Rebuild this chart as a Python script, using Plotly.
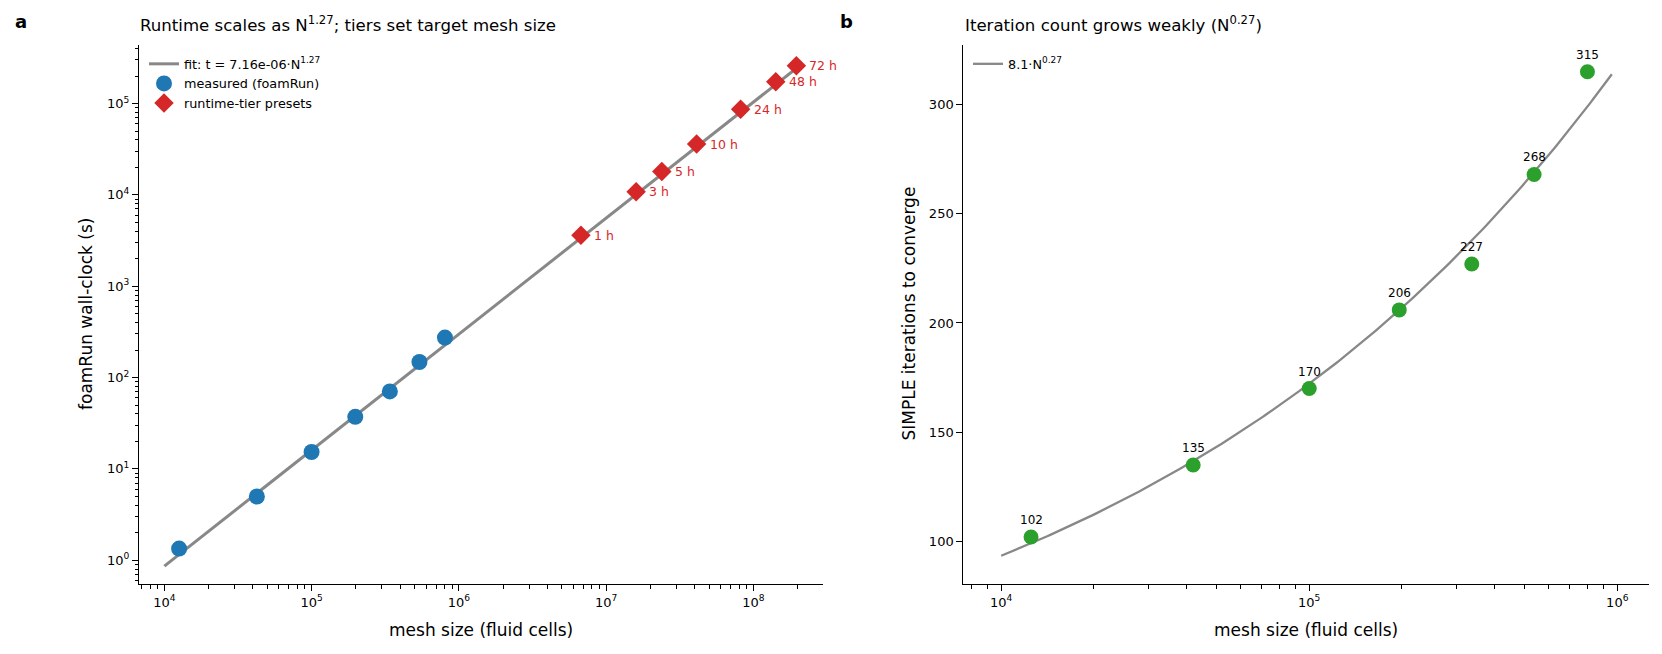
import numpy as np
import plotly.graph_objects as go

# ---------------- data ----------------
# Panel a: measured runtimes
meas_cells = [12600, 42500, 100000, 198000, 340000, 540000, 805000]
meas_runtime_s = [1.34, 4.98, 15.3, 37.1, 70.5, 148, 274]

# Panel a: runtime-tier presets
tier_labels = ["1 h", "3 h", "5 h", "10 h", "24 h", "48 h", "72 h"]
tier_runtime_s = [3600, 10800, 18000, 36000, 86400, 172800, 259200]
tier_cells = [6.75e6, 1.60e7, 2.39e7, 4.12e7, 8.2e7, 1.42e8, 1.96e8]

# Panel a: power-law fit  t = a * N^b
fit_a_coef = 7.16e-06
fit_a_exp = 1.27
fit_a_span = [1e4, 2.0e8]

# Panel b: SIMPLE iterations
iter_cells = [12500, 42000, 100000, 196000, 337000, 537000, 800000]
iter_counts = [102, 135, 170, 206, 227, 268, 315]

# Panel b: fit  it = a * N^b
fit_b_coef = 8.1
fit_b_exp = 0.2655
fit_b_span = [1e4, 9.6e5]

# tick labels
a_xticks = [1e4, 1e5, 1e6, 1e7, 1e8]
a_xticklabels = ["10<sup>4</sup>", "10<sup>5</sup>", "10<sup>6</sup>", "10<sup>7</sup>", "10<sup>8</sup>"]
a_yticks = [1e0, 1e1, 1e2, 1e3, 1e4, 1e5]
a_yticklabels = ["10<sup>0</sup>", "10<sup>1</sup>", "10<sup>2</sup>", "10<sup>3</sup>", "10<sup>4</sup>", "10<sup>5</sup>"]
b_xticks = [1e4, 1e5, 1e6]
b_xticklabels = ["10<sup>4</sup>", "10<sup>5</sup>", "10<sup>6</sup>"]
b_yticks = [100, 150, 200, 250, 300]

# ---------------- styling ----------------
W, H = 1662, 654
GRAY = "#888888"
BLUE = "#1f77b4"
RED = "#d62728"
GREEN = "#2ca02c"
FONT = "DejaVu Sans"

def px(x):
    return x / W

def py(y):
    return 1 - y / H

minor_vals = [m * 10.0 ** d for d in range(-1, 9) for m in range(2, 10)]

fit_a_x = np.array(fit_a_span)
fit_a_y = fit_a_coef * fit_a_x ** fit_a_exp
fit_b_x = np.logspace(np.log10(fit_b_span[0]), np.log10(fit_b_span[1]), 200)
fit_b_y = fit_b_coef * fit_b_x ** fit_b_exp

fig = go.Figure()

fig.add_trace(go.Scatter(
    x=fit_a_x, y=fit_a_y, mode="lines",
    line=dict(color=GRAY, width=3),
    name="fit: t = 7.16e-06·N<sup>1.27</sup>",
    xaxis="x", yaxis="y", legend="legend"))
fig.add_trace(go.Scatter(
    x=meas_cells, y=meas_runtime_s, mode="markers",
    marker=dict(color=BLUE, size=16, symbol="circle"),
    name="measured (foamRun)", xaxis="x", yaxis="y", legend="legend"))
fig.add_trace(go.Scatter(
    x=tier_cells, y=tier_runtime_s, mode="markers",
    marker=dict(color=RED, size=15, symbol="diamond"),
    name="runtime-tier presets", xaxis="x", yaxis="y", legend="legend"))

fig.add_trace(go.Scatter(
    x=fit_b_x, y=fit_b_y, mode="lines",
    line=dict(color=GRAY, width=2.3),
    name="8.1·N<sup>0.27</sup>", xaxis="x2", yaxis="y2", legend="legend2"))
fig.add_trace(go.Scatter(
    x=iter_cells, y=iter_counts, mode="markers",
    marker=dict(color=GREEN, size=15, symbol="circle"),
    showlegend=False, xaxis="x2", yaxis="y2"))

annotations = []
for n, t, lab in zip(tier_cells, tier_runtime_s, tier_labels):
    annotations.append(dict(x=np.log10(n), y=np.log10(t), xref="x", yref="y",
                            text=lab, showarrow=False, xanchor="left", yanchor="middle",
                            xshift=11, font=dict(family=FONT, size=12.5, color=RED)))
for n, it in zip(iter_cells, iter_counts):
    annotations.append(dict(x=np.log10(n), y=it, xref="x2", yref="y2",
                            text=str(it), showarrow=False, xanchor="center", yanchor="middle",
                            yshift=17, font=dict(family=FONT, size=12, color="black")))

# titles, panel letters, axis labels
annotations += [
    dict(x=px(138), y=py(24.5), xref="paper", yref="paper", xanchor="left", yanchor="middle",
         text="Runtime scales as N<sup>1.27</sup>; tiers set target mesh size", showarrow=False,
         font=dict(family=FONT, size=16.6, color="black")),
    dict(x=px(963), y=py(24.5), xref="paper", yref="paper", xanchor="left", yanchor="middle",
         text="Iteration count grows weakly (N<sup>0.27</sup>)", showarrow=False,
         font=dict(family=FONT, size=16.6, color="black")),
    dict(x=px(21), y=py(22), xref="paper", yref="paper", xanchor="center", yanchor="middle",
         text="<b>a</b>", showarrow=False, font=dict(family=FONT, size=18, color="black")),
    dict(x=px(847), y=py(22), xref="paper", yref="paper", xanchor="center", yanchor="middle",
         text="<b>b</b>", showarrow=False, font=dict(family=FONT, size=18, color="black")),
    dict(x=px((139 + 822.7) / 2), y=py(629.5), xref="paper", yref="paper", xanchor="center",
         yanchor="middle", text="mesh size (fluid cells)", showarrow=False,
         font=dict(family=FONT, size=17, color="black")),
    dict(x=px((963.3 + 1648.7) / 2), y=py(629.5), xref="paper", yref="paper", xanchor="center",
         yanchor="middle", text="mesh size (fluid cells)", showarrow=False,
         font=dict(family=FONT, size=17, color="black")),
    dict(x=px(86), y=py(314), xref="paper", yref="paper", xanchor="center", yanchor="middle",
         text="foamRun wall-clock (s)", textangle=-90, showarrow=False,
         font=dict(family=FONT, size=17, color="black")),
    dict(x=px(908.5), y=py(314), xref="paper", yref="paper", xanchor="center", yanchor="middle",
         text="SIMPLE iterations to converge", textangle=-90, showarrow=False,
         font=dict(family=FONT, size=17, color="black")),
]

axis_common = dict(showgrid=False, zeroline=False, showline=True, linecolor="black", linewidth=1,
                   ticks="outside", ticklen=6, tickwidth=1, tickcolor="black", mirror=False,
                   tickfont=dict(family=FONT, size=13, color="black"))
minor_common = dict(ticks="outside", ticklen=3.5, tickwidth=0.8, tickcolor="black",
                    tickvals=minor_vals, showgrid=False)

fig.update_layout(
    width=W, height=H,
    margin=dict(l=0, r=0, t=0, b=0),
    paper_bgcolor="white", plot_bgcolor="white",
    showlegend=True,
    xaxis=dict(domain=[px(139), px(822.7)], type="log", range=[3.828, 8.471],
               tickvals=a_xticks, ticktext=a_xticklabels, minor=minor_common,
               anchor="y", **axis_common),
    yaxis=dict(domain=[py(584), py(44.5)], type="log", range=[-0.2606, 5.646],
               tickvals=a_yticks, ticktext=a_yticklabels, minor=minor_common,
               anchor="x", **axis_common),
    xaxis2=dict(domain=[px(963.3), px(1648.7)], type="log", range=[3.877, 6.102],
                tickvals=b_xticks, ticktext=b_xticklabels, minor=minor_common,
                anchor="y2", **axis_common),
    yaxis2=dict(domain=[py(584), py(44.5)], range=[80.5, 327.5],
                tickvals=b_yticks, anchor="x2", **axis_common),
    legend=dict(x=px(144), y=py(49), xanchor="left", yanchor="top",
                bgcolor="rgba(0,0,0,0)", font=dict(family=FONT, size=12.8, color="black"),
                tracegroupgap=0),
    legend2=dict(x=px(968), y=py(49), xanchor="left", yanchor="top",
                 bgcolor="rgba(0,0,0,0)", font=dict(family=FONT, size=12.8, color="black")),
    annotations=annotations,
)

fig.write_html("out.html")
